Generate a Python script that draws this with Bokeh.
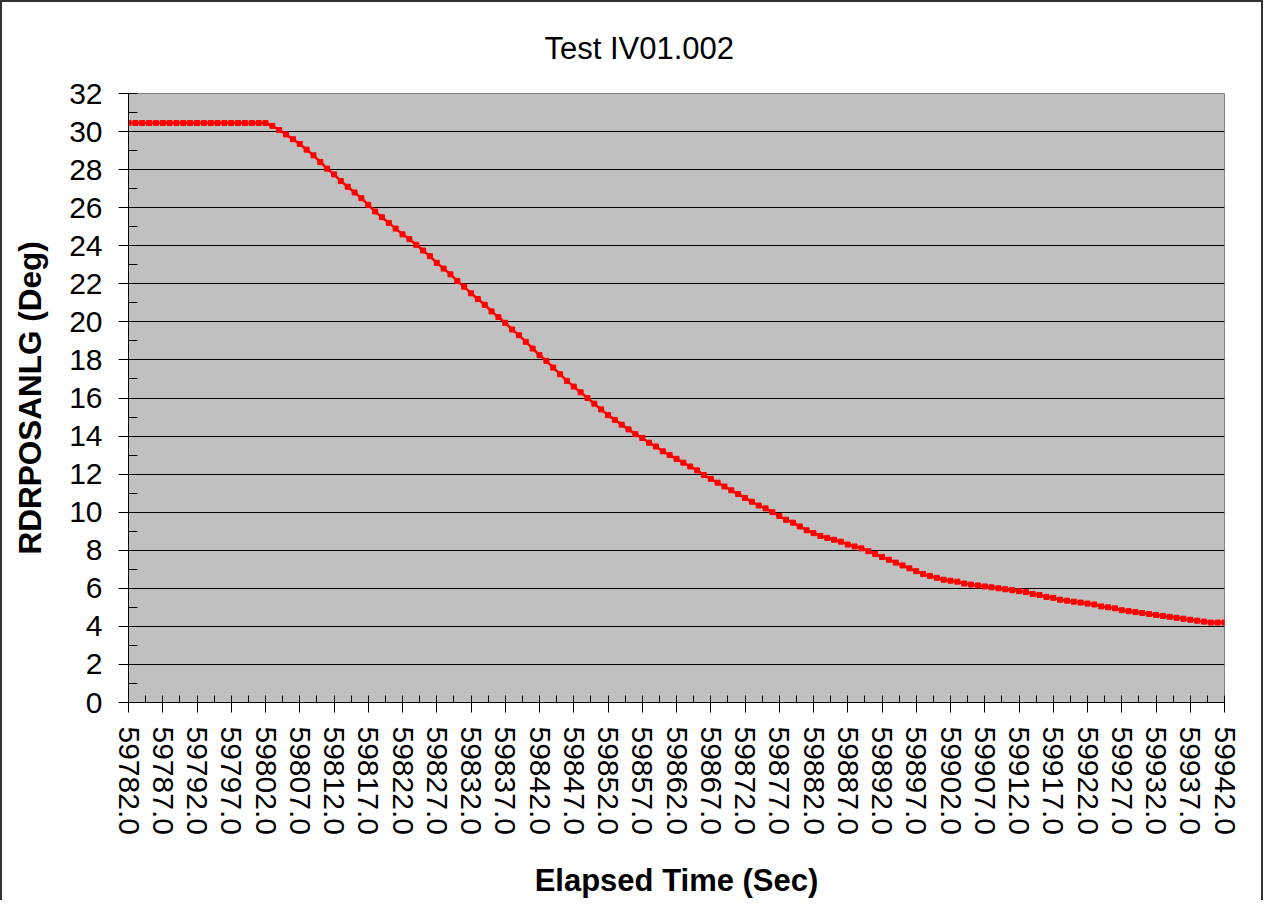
import math
from bokeh.plotting import figure
from bokeh.models import FixedTicker, PrintfTickFormatter, Range1d, SingleIntervalTicker
from bokeh.embed import file_html
from bokeh.resources import INLINE

title_text = "Test IV01.002"
x_label = "Elapsed Time (Sec)"
y_label = "RDRPOSANLG (Deg)"

# Elapsed time (s), one sample per second
elapsed_time = list(range(59782, 59943))

# RDRPOSANLG (deg)
angle = [
    30.45, 30.45, 30.45, 30.45, 30.45, 30.45, 30.45, 30.45, 30.45, 30.45,  # 59782-59791
    30.45, 30.45, 30.45, 30.45, 30.45, 30.45, 30.45, 30.45, 30.45, 30.45,  # 59792-59801
    30.45, 30.30, 30.08, 29.85, 29.60, 29.35, 29.05, 28.75, 28.40, 28.05,  # 59802-59811
    27.75, 27.40, 27.10, 26.80, 26.50, 26.15, 25.80, 25.50, 25.20, 24.90,  # 59812-59821
    24.60, 24.35, 24.05, 23.75, 23.45, 23.10, 22.80, 22.50, 22.15, 21.85,  # 59822-59831
    21.50, 21.20, 20.90, 20.55, 20.25, 19.95, 19.60, 19.30, 18.95, 18.60,  # 59832-59841
    18.25, 17.95, 17.60, 17.25, 16.90, 16.60, 16.30, 16.00, 15.70, 15.40,  # 59842-59851
    15.10, 14.85, 14.60, 14.35, 14.10, 13.90, 13.65, 13.45, 13.20, 13.00,  # 59852-59861
    12.80, 12.60, 12.40, 12.20, 11.95, 11.75, 11.55, 11.35, 11.15, 10.95,  # 59862-59871
    10.75, 10.55, 10.35, 10.20, 10.00, 9.80, 9.60, 9.45, 9.25, 9.05,       # 59872-59881
    8.90, 8.75, 8.65, 8.55, 8.45, 8.30, 8.20, 8.10, 7.95, 7.80,            # 59882-59891
    7.65, 7.50, 7.35, 7.20, 7.05, 6.90, 6.75, 6.65, 6.55, 6.45,            # 59892-59901
    6.40, 6.35, 6.25, 6.20, 6.15, 6.10, 6.05, 6.00, 5.95, 5.90,            # 59902-59911
    5.85, 5.80, 5.70, 5.65, 5.55, 5.50, 5.40, 5.35, 5.30, 5.25,            # 59912-59921
    5.20, 5.15, 5.05, 5.00, 4.95, 4.85, 4.80, 4.75, 4.70, 4.65,            # 59922-59931
    4.60, 4.55, 4.50, 4.45, 4.40, 4.35, 4.30, 4.25, 4.20, 4.20,            # 59932-59941
    4.20,                                                                  # 59942
]

x_tick_values = [59782, 59787, 59792, 59797, 59802, 59807, 59812, 59817, 59822,
                 59827, 59832, 59837, 59842, 59847, 59852, 59857, 59862, 59867,
                 59872, 59877, 59882, 59887, 59892, 59897, 59902, 59907, 59912,
                 59917, 59922, 59927, 59932, 59937, 59942]
x_minor_values = [v + 2.5 for v in x_tick_values[:-1]]

FONT = "Liberation Sans"

p = figure(
    output_backend="svg", toolbar_location=None,
    frame_width=1096, frame_height=609,
    min_border_left=126, min_border_right=37, min_border_top=91, min_border_bottom=195,
    x_range=Range1d(59782, 59942), y_range=Range1d(0, 32),
    title=title_text,
)
p.styles = {"border-left": "2px solid #333333", "border-top": "2px solid #333333",
            "border-right": "2px solid #333333"}

p.background_fill_color = "#C0C0C0"
p.border_fill_color = "white"
p.outline_line_color = "#808080"
p.outline_line_width = 1

p.title.align = "left"
p.title.offset = 416
p.title.text_font = FONT
p.title.text_font_size = "31px"
p.title.text_font_style = "normal"
p.title.text_color = "black"
p.title.vertical_align = "top"
p.title.standoff = 52

# X axis
xa = p.xaxis[0]
xa.ticker = FixedTicker(ticks=x_tick_values, minor_ticks=x_minor_values)
xa.formatter = PrintfTickFormatter(format="%.1f")
xa.major_label_orientation = -math.pi / 2
xa.major_label_text_font = FONT
xa.major_label_text_font_size = "30px"
xa.major_label_text_color = "black"
xa.major_label_standoff = 14
xa.major_tick_in = 7
xa.major_tick_out = 10
xa.minor_tick_in = 7
xa.minor_tick_out = 0
xa.major_tick_line_color = "black"
xa.minor_tick_line_color = "black"
xa.axis_line_color = "black"
xa.axis_label = x_label
xa.axis_label_text_font = FONT
xa.axis_label_text_font_size = "31px"
xa.axis_label_text_font_style = "bold"
xa.axis_label_text_color = "black"
xa.axis_label_standoff = 25

# Y axis
ya = p.yaxis[0]
ya.ticker = SingleIntervalTicker(interval=2, num_minor_ticks=2)
ya.major_label_text_font = FONT
ya.major_label_text_font_size = "30px"
ya.major_label_text_color = "black"
ya.major_label_standoff = 16
ya.major_tick_in = 0
ya.major_tick_out = 10
ya.minor_tick_in = 9
ya.minor_tick_out = 0
ya.major_tick_line_color = "black"
ya.minor_tick_line_color = "black"
ya.axis_line_color = "black"
ya.axis_label = y_label
ya.axis_label_text_font = FONT
ya.axis_label_text_font_size = "31.5px"
ya.axis_label_text_font_style = "bold"
ya.axis_label_text_color = "black"
ya.axis_label_standoff = 18

p.xgrid.grid_line_color = None
p.ygrid.grid_line_color = "black"
p.ygrid.grid_line_width = 1
p.ygrid.grid_line_alpha = 1.0

p.line(elapsed_time, angle, line_color="#FF0000", line_width=2.5)
p.scatter(elapsed_time, angle, marker="square", size=5, fill_color="#FF0000",
          line_color="#FF0000")

open("out.html", "w").write(file_html(p, INLINE))
